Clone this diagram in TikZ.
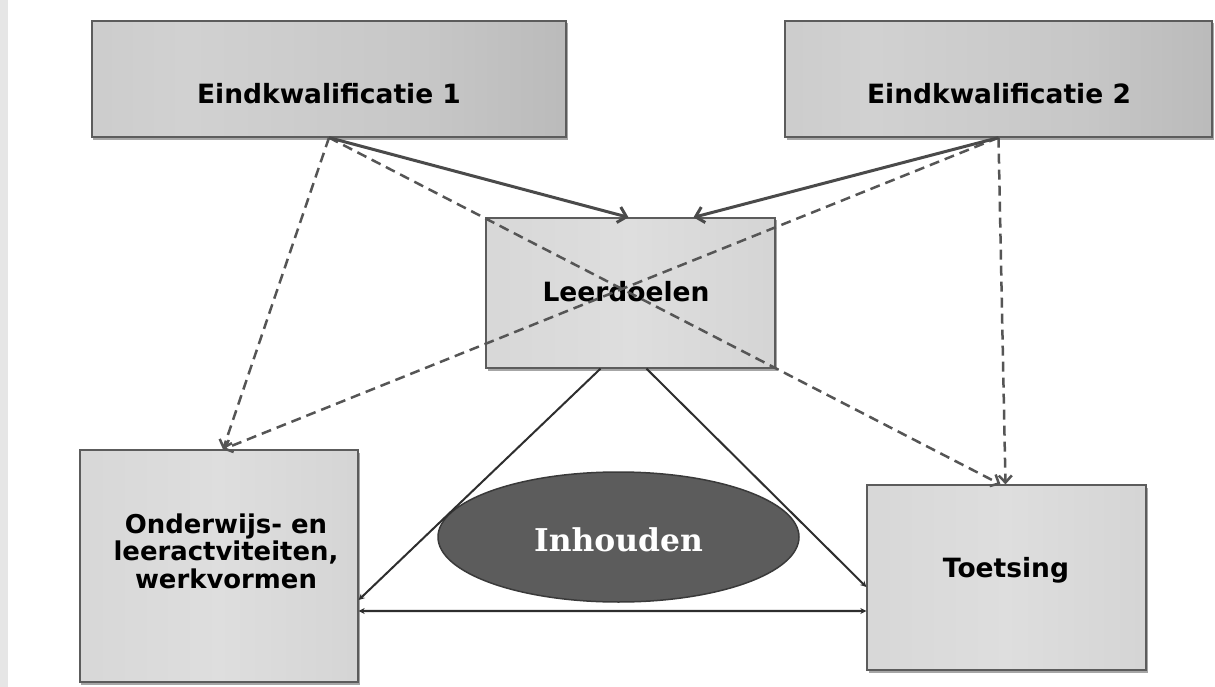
\documentclass[tikz,border=0pt]{standalone}
\usepackage{fontspec}
\newfontfamily\boxfont{DejaVu Sans}
\newfontfamily\inhfont{DejaVu Serif}
\usetikzlibrary{arrows.meta,calc,shapes.geometric,shadows}
\definecolor{boxline}{HTML}{5C5C5C}
\definecolor{dashcol}{HTML}{555555}
\definecolor{arrcol}{HTML}{4A4A4A}
\definecolor{thincol}{HTML}{2E2E2E}
\definecolor{ellfill}{HTML}{5C5C5C}
\definecolor{elldraw}{HTML}{3A3A3A}
\definecolor{stripcol}{HTML}{E6E6E6}
\pgfdeclarehorizontalshading{topshade}{100bp}{%
  color(0bp)=(black!35); color(7bp)=(black!23); color(35bp)=(black!18);
  color(60bp)=(black!22); color(88bp)=(black!31); color(100bp)=(black!42)}
\pgfdeclarehorizontalshading{lowshade}{100bp}{%
  color(0bp)=(black!27); color(10bp)=(black!17); color(50bp)=(black!13);
  color(85bp)=(black!18); color(100bp)=(black!27)}
\begin{document}
\begin{tikzpicture}[x=1bp,y=-1bp,
  box/.style={draw=boxline, line width=1.3bp, inner sep=0pt,
    drop shadow={shadow xshift=1.5bp, shadow yshift=-2.5bp, opacity=.35, fill=black}},
  topbox/.style={box, shading=topshade},
  lowbox/.style={box, shading=lowshade},
  boxtext/.style={font=\boxfont\bfseries\fontsize{26.6}{27}\selectfont, text=black, inner sep=0pt, align=center},
  dasharrow/.style={draw=dashcol, line width=2.5bp, dash pattern=on 10bp off 6bp,
    -{Straight Barb[length=7bp,width=13bp]}},
  solidarrow/.style={draw=arrcol, line width=3bp, -{Straight Barb[length=8bp,width=16bp]}},
  thinarrow/.style={draw=thincol, line width=2bp, -{Stealth[length=6bp,width=6bp]}},
  thinboth/.style={draw=thincol, line width=2.2bp, {Stealth[length=6bp,width=6bp]}-{Stealth[length=6bp,width=6bp]}}
]
\useasboundingbox (0,0) rectangle (1215,687);
\fill[white] (0,0) rectangle (1215,687);
\fill[stripcol] (0,0) rectangle (8,687);

% boxes
\node[topbox, minimum width=474bp, minimum height=116bp] (e1) at (329,79) {};
\node[topbox, minimum width=427bp, minimum height=116bp] (e2) at (998.5,79) {};
\node[lowbox, minimum width=289bp, minimum height=150bp] (leer) at (630.5,293) {};
\node[lowbox, minimum width=278bp, minimum height=232bp] (ond) at (219,566) {};
\node[lowbox, minimum width=279bp, minimum height=185bp] (toe) at (1006.5,577.5) {};
\node[ellipse, fill=ellfill, draw=elldraw, line width=1.5bp, minimum width=361bp, minimum height=130bp, inner sep=0pt] (inh) at (618.5,537) {};

% texts
\node[boxtext, anchor=base] (e1t) at (329,104) {Eindkwalificatie 1};
\node[boxtext, anchor=base] (e2t) at (999,104) {Eindkwalificatie 2};
\node[boxtext, anchor=base] (leert) at (626,301) {Leerdoelen};
\node[boxtext, anchor=base] (toet) at (1006,577) {Toetsing};
\node[boxtext, font=\boxfont\bfseries\fontsize{26}{27.5}\selectfont] (ondt) at (226,551) {Onderwijs- en\\leeractviteiten,\\werkvormen};
\node[font=\inhfont\bfseries\fontsize{31.5}{36}\selectfont, text=white, inner sep=0pt, anchor=base] (inht) at (618.5,551) {Inhouden};

% connectors
\draw[thinarrow] ($(leer.south)+(-30,0)$) -- ($(ond.east)+(0,34)$);
\draw[thinarrow] ($(leer.south)+(16,0)$) -- ($(toe.west)+(0,9.5)$);
\draw[thinboth] ($(ond.east)+(0,45)$) -- ($(toe.west)+(0,33.5)$);

\draw[dasharrow] (e1.south) -- ($(ond.north)+(4,0)$);
\draw[dasharrow] (e1.south) -- ($(toe.north)+(-6,0)$);
\draw[dasharrow] (e2.south) -- ($(ond.north)+(4,0)$);
\draw[dasharrow] (e2.south) -- ($(toe.north)+(-1,0)$);
\draw[solidarrow] (e1.south) -- ($(leer.north)+(-2,0)$);
\draw[solidarrow] (e2.south) -- ($(leer.north)+(63,0)$);
\end{tikzpicture}
\end{document}
